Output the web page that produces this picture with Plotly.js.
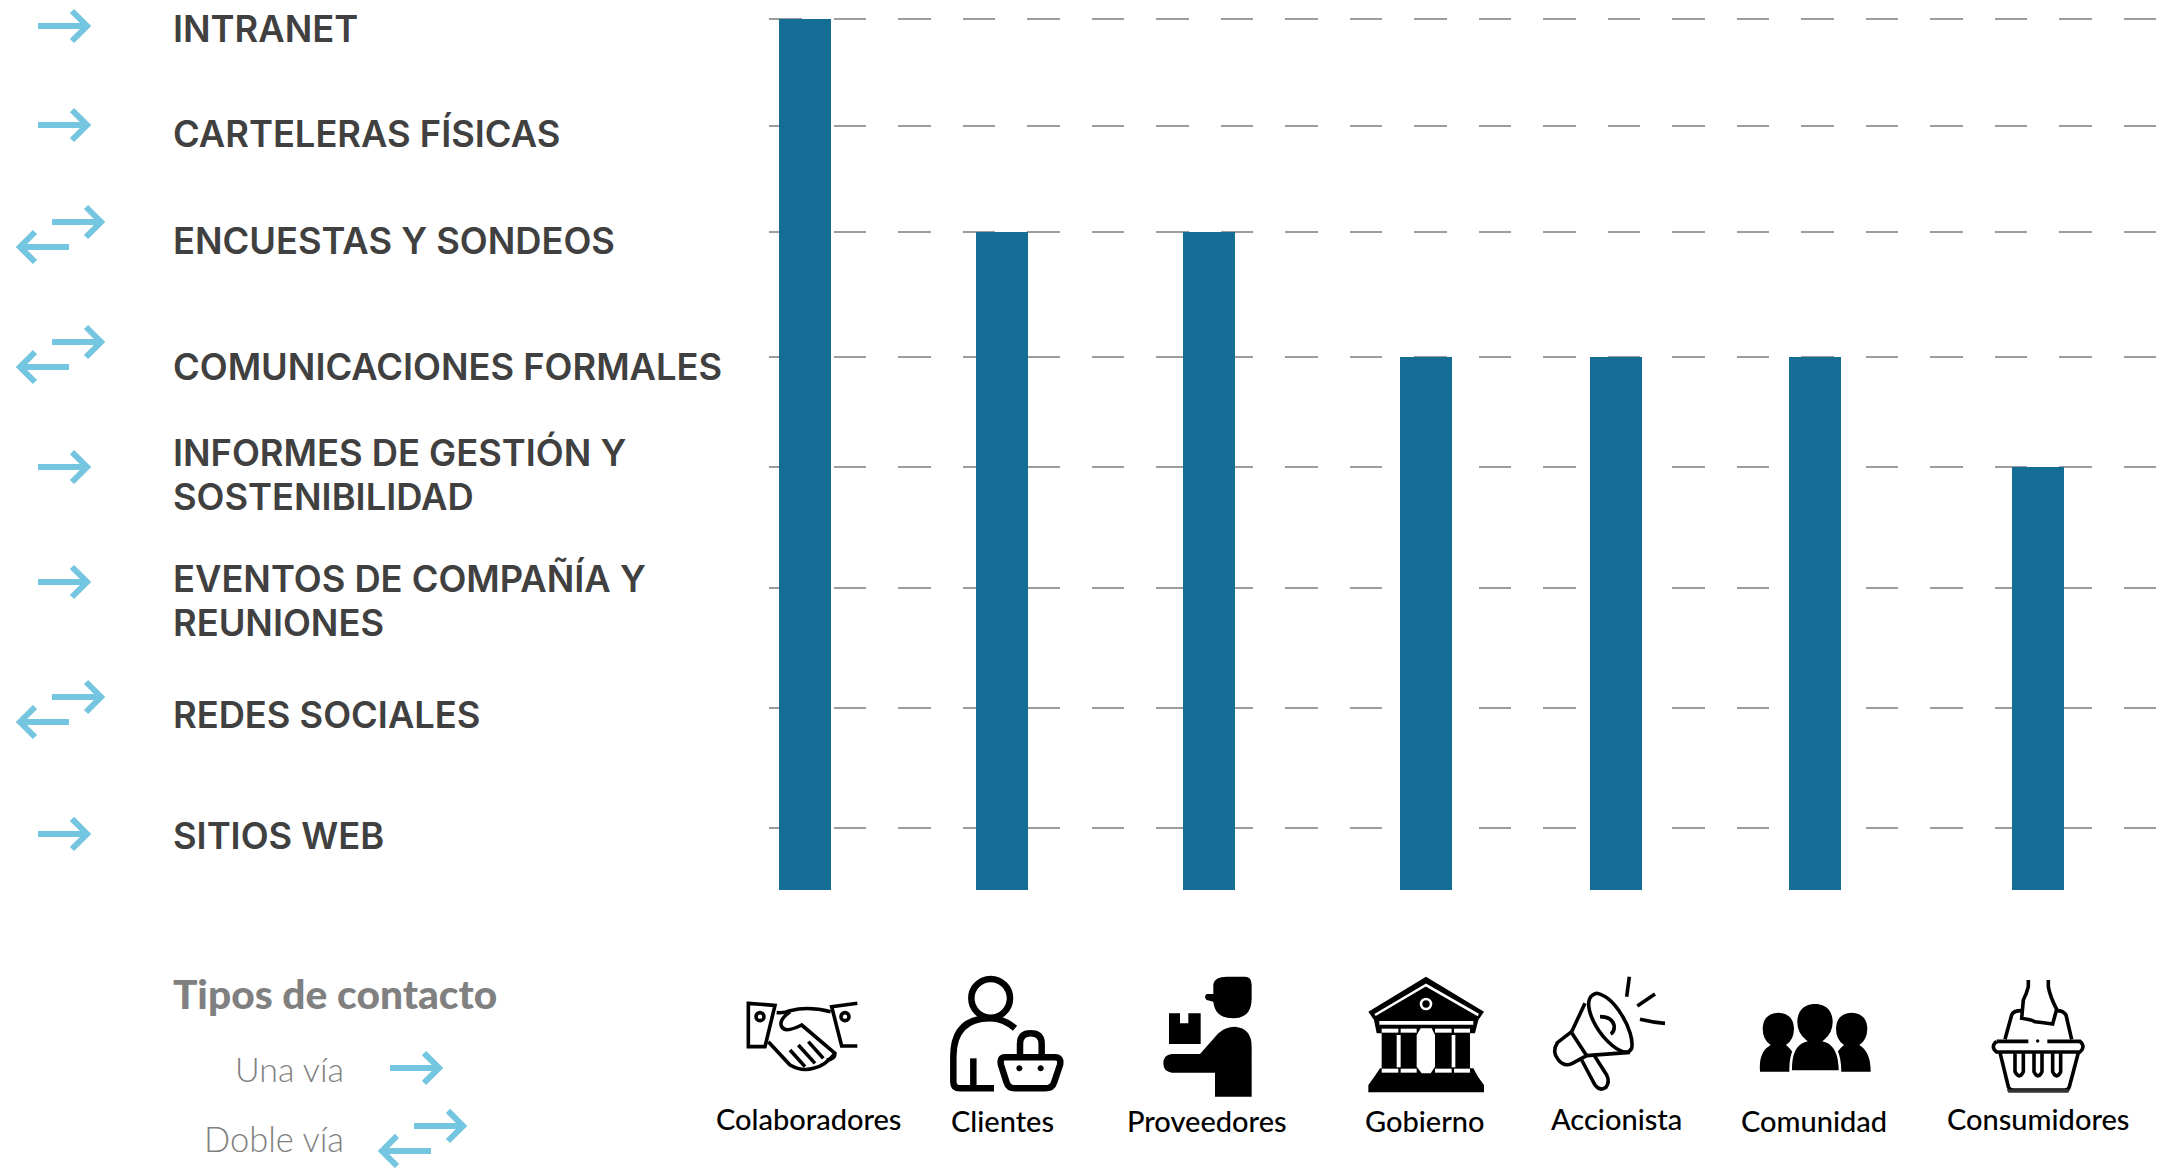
<!DOCTYPE html>
<html>
<head>
<meta charset="utf-8">
<script src="https://cdn.plot.ly/plotly-3.0.1.min.js"></script>
<style>html,body{margin:0;padding:0;background:#fff;overflow:hidden}#chart{width:2161px;height:1168px}</style>
</head>
<body>
<div id="chart"></div>
<script>
// ---------- data ----------
const stakeholders = ["Colaboradores","Clientes","Proveedores","Gobierno","Accionista","Comunidad","Consumidores"];
const channelsReached = [8,6,6,5,5,5,4];
const stakeholderAxisPos = [805,1002,1209,1426,1616,1815,2038];
const channels = ["INTRANET","CARTELERAS FÍSICAS","ENCUESTAS Y SONDEOS","COMUNICACIONES FORMALES","INFORMES DE GESTIÓN Y<br>SOSTENIBILIDAD","EVENTOS DE COMPAÑÍA Y<br>REUNIONES","REDES SOCIALES","SITIOS WEB"];
const channelAxisPos = [871,764,658,533,423,302,182,62];
const channelContact = ["Una vía","Una vía","Doble vía","Doble vía","Una vía","Una vía","Doble vía","Una vía"];

// ---------- page geometry ----------
const W=2161,H=1168,L=769,R=2157,B=890;
const px=x=>(x-L)/(R-L), py=y=>(B-y)/B;
const barColor="#156d96", arrowColor="#74c5df", ink="#000000";
const shapes=[], annotations=[];

// transform a path written in absolute coords (M L Q C Z only)
function tr(d,ox,oy,s){
  let i=0;
  return d.replace(/-?\d+(\.\d+)?/g,n=>{
    const v=parseFloat(n);const isX=(i++%2===0);
    return isX?px(ox+v*s).toFixed(5):py(oy+v*s).toFixed(5);
  });
}
function add(d,ox,oy,s,o){
  shapes.push({type:"path",xref:"paper",yref:"paper",path:tr(d,ox,oy,s),layer:"above",
    fillcolor:o.fill||"rgba(0,0,0,0)",line:{color:o.stroke||"rgba(0,0,0,0)",width:o.w||0}});
}
function circ(x,y,r){const k=r*0.5523;
  return `M${x-r},${y} C${x-r},${y-k} ${x-k},${y-r} ${x},${y-r} C${x+k},${y-r} ${x+r},${y-k} ${x+r},${y} C${x+r},${y+k} ${x+k},${y+r} ${x},${y+r} C${x-k},${y+r} ${x-r},${y+k} ${x-r},${y} Z`;}

// arrows
function arrowR(x,y){add(`M${x},${y} L${x+49},${y} M${x+34},${y-15} L${x+49},${y} L${x+34},${y+15}`,0,0,1,{stroke:arrowColor,w:6});}
function arrowL(x,y){add(`M${x+50},${y} L${x+1},${y} M${x+16},${y-15} L${x+1},${y} L${x+16},${y+15}`,0,0,1,{stroke:arrowColor,w:6});}
function twoWay(xTop,yTop){arrowR(xTop,yTop);arrowL(xTop-33,yTop+25);}

const channelTextY=[[29],[134],[241],[367],[453,497],[579,623],[715],[836]];
const arrowY=[26,125,222,342,467,582,697,834];
channels.forEach((c,i)=>{
  c.split("<br>").forEach((line,j)=>annotations.push({xref:"paper",yref:"paper",x:px(171),y:py(channelTextY[i][j]),xanchor:"left",yanchor:"middle",align:"left",showarrow:false,
    text:line,font:{family:"Inter, Lato, sans-serif",size:36.3,weight:600,color:"#404040"}}));
  if(channelContact[i]==="Una vía") arrowR(38,arrowY[i]); else twoWay(52,arrowY[i]);
});

// legend
annotations.push({xref:"paper",yref:"paper",x:px(171),y:py(993),xanchor:"left",yanchor:"middle",showarrow:false,text:"Tipos de contacto",
  font:{family:"Lato, sans-serif",size:40.7,weight:900,color:"#808080"}});
annotations.push({xref:"paper",yref:"paper",x:px(346),y:py(1068),xanchor:"right",yanchor:"middle",showarrow:false,text:"Una vía",
  font:{family:"Lato, sans-serif",size:34,weight:300,color:"#808080"}});
annotations.push({xref:"paper",yref:"paper",x:px(346),y:py(1138),xanchor:"right",yanchor:"middle",showarrow:false,text:"Doble vía",
  font:{family:"Lato, sans-serif",size:34.5,weight:300,color:"#808080"}});
arrowR(390,1068);
twoWay(414,1126);

// stakeholder labels
const labelX=[808,1002,1207,1425,1616,1814,2038], labelY=[1118,1120,1120,1120,1118,1120,1118];
stakeholders.forEach((s,i)=>annotations.push({xref:"paper",yref:"paper",x:px(labelX[i]),y:py(labelY[i]),xanchor:"center",yanchor:"middle",showarrow:false,text:s,
  font:{family:"Lato, sans-serif",size:29,weight:500,color:"#000"}}));

// ---------- icons (drawn in 3x crop coordinates) ----------
const S=1/3;
// handshake
(function(){const O=[740,970],st={stroke:ink,w:3.6};
 const p=d=>add(d,O[0],O[1],S,st);
 p("M25,100 L105,106 L75,230 L25,230 Z");p("M352,100 L275,110 L305,228 L352,228");
 p(circ(60,140,12));p(circ(315,140,12));
 p("M110,128 Q135,130 150,122 Q205,108 272,125");
 p("M150,125 Q115,150 125,170 Q135,190 185,165 L285,250 Q285,268 260,270");
 p("M85,215 L150,285 Q185,305 220,295 Q255,288 285,250");
 p("M150,240 L195,290");p("M175,225 L225,280");p("M205,215 L250,265");
})();
// client with basket
(function(){const O=[740,970],st={stroke:ink,w:6.5};
 const p=d=>add(d,O[0],O[1],S,st);
 p(circ(752,85,58));
 p("M825,175 Q790,145 750,145 Q640,145 640,260 L640,335 Q640,355 660,355 L762,355");
 p("M700,265 L700,350");
 p("M795,262 L945,262 Q965,262 960,285 L942,338 Q937,355 915,355 L825,355 Q805,355 800,338 L783,285 Q778,262 795,262 Z");
 p("M840,258 L840,222 Q840,190 872,190 Q905,190 905,222 L905,258");
 add(circ(838,295,9),O[0],O[1],S,{fill:ink});add(circ(902,295,9),O[0],O[1],S,{fill:ink});
})();
// provider
(function(){const O=[1150,970],f={fill:ink};
 const p=d=>add(d,O[0],O[1],S,f);
 p("M190,42 Q195,20 230,20 L285,20 Q305,20 305,45 L305,85 Q305,145 250,145 Q195,145 190,95 L170,90 Q160,80 170,72 L190,72 Z");
 p("M57,130 L90,130 L90,160 L115,160 L115,130 L152,130 L152,222 L57,222 Z");
 p("M255,170 Q305,175 305,230 L305,380 L195,380 L195,308 L65,308 Q40,305 40,280 Q40,255 65,252 L150,252 L205,190 Q225,170 255,170 Z");
})();
// government
(function(){const O=[1150,970],f={fill:ink},wf={fill:"#fff"};
 const k=d=>add(d,O[0],O[1],S,f),w=d=>add(d,O[0],O[1],S,wf);
 k("M828,20 L1002,125 L985,150 L975,190 L960,190 L960,295 L970,295 L985,322 L1002,345 L1002,367 L655,367 L655,345 L672,322 L690,295 L695,295 L695,190 L680,190 L672,150 L655,125 Z");
 add("M675,135 L828,45 L985,135",O[0],O[1],S,{stroke:"#fff",w:2.6});
 add(circ(828,102,15),O[0],O[1],S,{stroke:"#fff",w:2.6});
 w("M688,153 L970,153 L970,164 L688,164 Z");
 [[695,745],[752,800],[855,905],[912,960]].forEach(a=>{
   w(`M${a[0]},176 L${a[1]},176 L${a[1]},188 L${a[0]},188 Z`);
   w(`M${a[0]},296 L${a[1]},296 L${a[1]},308 L${a[0]},308 Z`);
 });
 w("M740,195 L752,195 L752,292 L740,292 Z");w("M905,195 L916,195 L916,292 L905,292 Z");
 w("M812,175 L845,175 L855,195 L855,290 L842,310 L815,310 L800,290 L800,195 Z");
})();
// megaphone
(function(){const O=[1540,970],st={stroke:ink,w:3.6};
 const p=d=>add(d,O[0],O[1],S,st);
 p("M170,70 C225,80 285,185 275,235 C262,260 225,240 190,200 C150,150 125,80 170,70 Z");
 p("M135,100 L95,185");p("M270,247 L140,257");
 p("M95,185 L52,218 Q35,245 55,270 Q72,292 97,280 L140,257");p("M95,188 L140,257");
 p("M125,270 L165,345 Q180,365 198,352 Q210,335 200,315 L160,252");
 p("M180,140 Q215,140 222,165 Q225,185 212,192");
 p("M268,20 L260,80");p("M345,72 L292,108");p("M300,148 Q340,158 375,160");
})();
// community
(function(){const O=[1540,970],f={fill:ink};
 const p=d=>add(d,O[0],O[1],S,f);
 p("M715,128 Q760,130 762,175 Q762,210 738,225 Q748,232 760,250 L760,305 L660,305 Q655,245 692,225 Q668,210 668,175 Q670,130 715,128 Z");
 p("M935,128 Q980,130 982,175 Q982,210 958,225 Q992,245 992,305 L890,305 L890,250 Q902,232 912,225 Q888,210 888,175 Q890,130 935,128 Z");
 const center="M825,97 Q880,100 882,155 Q882,190 855,212 Q900,225 900,305 L752,305 Q750,225 795,212 Q768,190 768,155 Q770,100 825,97 Z";
 add(center,O[0],O[1],S,{fill:ink,stroke:"#fff",w:2.6});
})();
// shopping basket
(function(){const O=[1960,970],st={stroke:ink,w:3.6};
 const p=d=>add(d,O[0],O[1],S,st);
 p("M110,214 L205,214");p("M262,214 L360,214 Q378,230 360,246 L110,246 Q90,230 110,214");
 p("M120,248 L145,350 Q148,360 160,360 L315,360 Q325,360 328,350 L355,248");
 p("M165,250 L165,305 Q178,330 190,305 L190,250");p("M222,250 L222,305 Q234,330 246,305 L246,250");p("M278,250 L278,305 Q290,330 302,305 L302,250");
 p("M135,208 L155,135 Q160,122 185,122");p("M335,208 L318,135 Q310,122 290,122");
 p("M205,30 L205,50 Q200,70 190,90 L185,145 Q215,150 225,155 Q250,158 278,162 L290,118 Q270,80 265,50 L265,30");
 add(circ(233,213,5),O[0],O[1],S,{fill:ink});
 add("M140,358 L330,358 L325,368 L145,368 Z",O[0],O[1],S,{fill:"#333"});
})();

// ---------- chart ----------
const barHeights = channelsReached.map(n=>channelAxisPos[channels.length-n]);
const trace={type:"bar",x:stakeholderAxisPos,y:barHeights,width:52,marker:{color:barColor,line:{width:0}},text:stakeholders,textposition:"none",hoverinfo:"text"};
const layout={width:W,height:H,paper_bgcolor:"#fff",plot_bgcolor:"#fff",showlegend:false,
  margin:{l:L,r:W-R,t:0,b:H-B,pad:0},
  xaxis:{range:[L,R],showgrid:false,zeroline:false,showticklabels:false,ticks:"",showline:false,fixedrange:true},
  yaxis:{range:[0,B],tickmode:"array",tickvals:channelAxisPos,showticklabels:false,ticks:"",zeroline:false,showline:false,showgrid:true,
    gridcolor:"#9c9c9c",gridwidth:2,griddash:"32.5px,32px",fixedrange:true},
  shapes,annotations};
Plotly.newPlot("chart",[trace],layout,{displayModeBar:false,staticPlot:true});
</script>
</body>
</html>
